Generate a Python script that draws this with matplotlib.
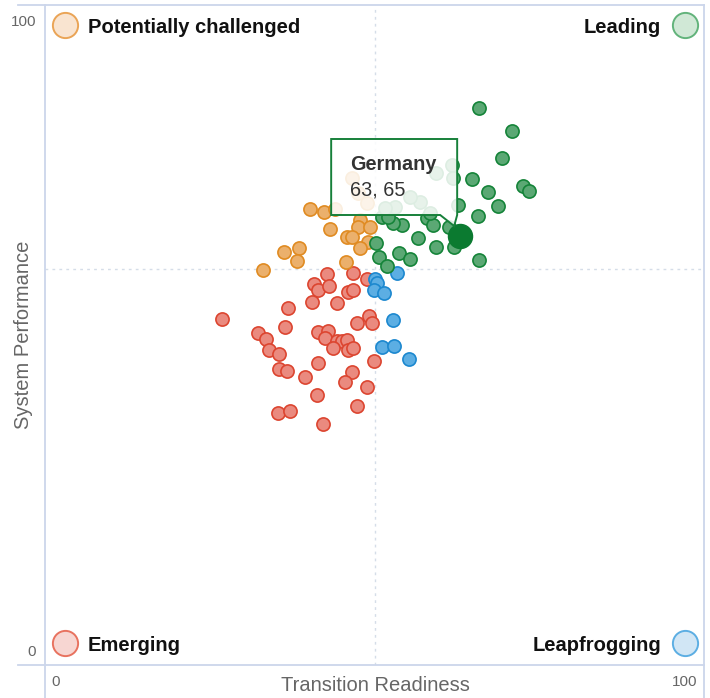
import numpy as np
import matplotlib.pyplot as plt
from matplotlib.lines import Line2D
from matplotlib.patches import Polygon
from matplotlib.transforms import IdentityTransform

plt.rcParams['font.family'] = ['Liberation Sans', 'DejaVu Sans']

# --- data (Transition Readiness, System Performance) ---
orange_x = [40.2, 42.3, 44.0, 43.2, 47.8, 47.5, 49.3, 45.8, 46.6, 49.0, 47.8, 38.5, 36.3, 38.2, 45.7, 33.1,
            46.6, 47.5, 48.9]
orange_y = [69.1, 68.6, 69.1, 66.1, 67.4, 66.4, 66.4, 64.8, 64.8, 64.1, 63.2, 63.2, 62.6, 61.2, 61.1, 59.8,
            73.8, 71.5, 70.0]

green_x = [65.9, 70.9, 69.3, 64.8, 72.5, 73.4, 67.2, 68.7, 65.7, 62.7, 61.3, 62.1, 59.3, 56.6, 58.0, 58.9,
           54.2, 52.8, 51.1, 52.0, 50.2, 50.7, 53.7, 55.4, 51.9, 65.9,
           61.8, 59.3, 61.9, 56.9, 55.4, 53.1, 51.6, 58.4]
green_y = [84.4, 80.9, 76.8, 73.6, 72.6, 71.8, 71.7, 69.5, 68.0, 69.7, 66.4, 63.3, 63.3, 64.7, 67.7, 66.7,
           66.7, 67.0, 67.9, 67.9, 63.9, 61.8, 62.4, 61.5, 60.5, 61.4,
           75.8, 74.5, 73.8, 70.2, 70.9, 69.4, 69.2, 68.5]

blue_x = [53.4, 50.1, 50.4, 49.9, 51.4, 52.8, 51.1, 53.0, 55.2]
blue_y = [59.4, 58.5, 57.9, 56.8, 56.4, 52.3, 48.2, 48.3, 46.4]

red_x = [42.8, 46.7, 48.9, 40.8, 41.4, 43.1, 40.5, 44.3, 46.0, 46.7, 36.9, 26.9, 36.4, 49.2, 49.6, 47.3,
         32.3, 33.5, 34.0, 35.5, 41.4, 42.9, 42.5, 44.3, 45.1, 45.8, 43.7, 46.0, 46.7, 49.9, 41.4, 35.5,
         36.7, 39.5, 46.6, 45.5, 48.9, 41.3, 47.3, 35.4, 37.2, 42.2]
red_y = [59.2, 59.4, 58.5, 57.7, 56.8, 57.4, 55.0, 54.8, 56.5, 56.8, 54.1, 52.4, 51.2, 52.9, 51.8, 51.8,
         50.3, 49.4, 47.7, 47.1, 50.5, 50.6, 49.5, 49.1, 49.1, 49.2, 48.0, 47.7, 48.0, 46.1, 45.8, 44.8,
         44.5, 43.6, 44.4, 42.9, 42.1, 40.9, 39.2, 38.2, 38.5, 36.5]

highlight_name = "Germany"
highlight_x, highlight_y = 63, 65

quadrants = ["Potentially challenged", "Leading", "Emerging", "Leapfrogging"]

W, H = 710, 698
fig = plt.figure(figsize=(W / 100, H / 100), dpi=100)
ax = fig.add_axes([45 / W, 1 - 665 / H, 659 / W, 660 / H])
ax.set_xlim(0, 100)
ax.set_ylim(0, 100)
ax.axis('off')

# frame lines (light blue-grey)
frame_c = '#ccd6eb'
for xs, ys in [([18, 704], [5, 5]), ([18, 704], [665, 665]), ([45, 45], [5, 698]), ([704, 704], [5, 698])]:
    fig.add_artist(Line2D([x / W for x in xs], [1 - y / H for y in ys], color=frame_c, lw=1.3,
                          transform=fig.transFigure))

# quadrant dividers
ax.axvline(50, color='#d5dde8', lw=1, ls=(0, (2, 3)), zorder=0)
ax.axhline(60, color='#d5dde8', lw=1, ls=(0, (2, 3)), zorder=0)

# points
s = 90
ax.scatter(red_x, red_y, s=s, c='#ea8a7f', edgecolors='#dc4530', linewidths=1.2, zorder=2)
ax.scatter(orange_x, orange_y, s=s, c='#ebb06c', edgecolors='#e08b22', linewidths=1.2, zorder=2)
ax.scatter(blue_x, blue_y, s=s, c='#5caee3', edgecolors='#1c88cf', linewidths=1.2, zorder=2)
ax.scatter(green_x, green_y, s=s, c='#5ba874', edgecolors='#158439', linewidths=1.2, zorder=2)

# highlighted country
ax.scatter([highlight_x], [highlight_y], s=300, c='#0b7a30', edgecolors='#0b7a30', zorder=6)

# tooltip
fig.canvas.draw()
gx, gy = ax.transData.transform((highlight_x, highlight_y))
pts = [(-129, 97), (-3, 97), (-3, 21), (-6, 10), (-20, 21), (-129, 21)]
tip = Polygon([(gx + dx, gy + dy) for dx, dy in pts], closed=True, transform=IdentityTransform(),
              facecolor=(1, 1, 1, 0.86), edgecolor='#17803a', lw=1.4, zorder=5)
fig.add_artist(tip)
fig.text((gx - 110) / W, (gy + 66) / H, highlight_name, fontsize=14.3, fontweight='bold',
         color='#333333', va='baseline', zorder=6)
fig.text((gx - 110) / W, (gy + 40) / H, f"{highlight_x}, {highlight_y}", fontsize=14.3,
         color='#333333', va='baseline', zorder=6)

# quadrant legends
q_fill = ['#f9e4d0', '#d0e8d6', '#f7d6d2', '#d1e6f5']
q_edge = ['#eaa456', '#62b37b', '#e8725f', '#5caee3']
q_cx = [(65 - 45) / 659, (685 - 45) / 659, (65 - 45) / 659, (685 - 45) / 659]
q_cy = [(665 - 25) / 660, (665 - 25) / 660, (665 - 643) / 660, (665 - 643) / 660]
q_base = [(665 - 33) / 660, (665 - 33) / 660, (665 - 651) / 660, (665 - 651) / 660]
for i, name in enumerate(quadrants):
    ax.scatter([q_cx[i]], [q_cy[i]], s=330, c=q_fill[i], edgecolors=q_edge[i], linewidths=1.4,
               transform=ax.transAxes, clip_on=False, zorder=3)
    left = i % 2 == 0
    tx = (88 - 45) / 659 if left else (661 - 45) / 659
    ax.text(tx, q_base[i], name, transform=ax.transAxes, fontsize=14.5, fontweight='bold',
            color='#111111', ha='left' if left else 'right', va='baseline')

# tick labels
tick_c = '#666666'
fig.text(36 / W, 1 - 22 / H, "100", fontsize=11, color=tick_c, ha='right', va='center')
fig.text(36 / W, 1 - 652 / H, "0", fontsize=11, color=tick_c, ha='right', va='center')
fig.text(51 / W, 1 - 682 / H, "0", fontsize=11, color=tick_c, ha='left', va='center')
fig.text(697 / W, 1 - 682 / H, "100", fontsize=11, color=tick_c, ha='right', va='center')

# axis titles
fig.text(375 / W, 1 - 691 / H, "Transition Readiness", fontsize=14.5, color=tick_c, ha='center',
         va='baseline')
fig.text(24 / W, 1 - 335 / H, "System Performance", fontsize=14.5, color=tick_c, ha='center',
         va='center', rotation=90)

fig.savefig('out.png', dpi=100)
